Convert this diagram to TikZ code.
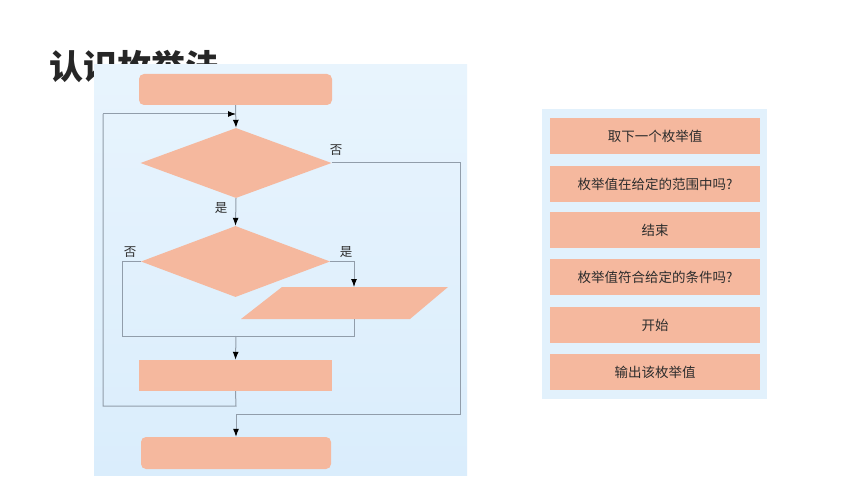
\documentclass[tikz,border=0pt]{standalone}
\usepackage{fontspec}
\setmainfont{Noto Sans CJK SC}
\newfontfamily\cjk{Noto Sans CJK SC}
\usetikzlibrary{shapes.geometric,arrows.meta,calc}
\definecolor{boxfill}{RGB}{245,184,158}
\definecolor{lineg}{RGB}{145,157,170}
\definecolor{panelA}{RGB}{232,244,253}
\definecolor{panelB}{RGB}{218,237,252}
\definecolor{panelR}{RGB}{226,241,252}
\definecolor{txt}{RGB}{45,45,45}
\tikzset{
  fbox/.style={fill=boxfill,draw=none,inner sep=0pt},
  flow/.style={draw=lineg,line width=1pt},
  arr/.style={flow,-{Latex[black,length=8pt,width=6pt]}},
  lab/.style={font=\cjk\fontsize{12.5}{12.5}\selectfont,text=txt,inner sep=0pt},
  rbox/.style={fill=boxfill,draw=none,minimum width=210pt,minimum height=36pt,inner sep=0pt,font=\cjk\fontsize{13.5}{14}\selectfont,text=txt},
}
\begin{document}
\begin{tikzpicture}[x=1pt,y=-1pt]
\useasboundingbox (0,0) rectangle (860,484);
\fill[white] (0,0) rectangle (860,484);
% title
\node[anchor=west,inner sep=0pt,font=\cjk\bfseries\fontsize{34}{34}\selectfont,text=black!85] (title) at (49,67) {认识枚举法};
% left panel
\shade[top color=panelA,bottom color=panelB] (94,65) rectangle (467,475);
% shapes
\node[fbox,rounded corners=5pt,minimum width=193pt,minimum height=31pt] (start) at (235.5,89.5) {};
\node[fbox,diamond,aspect=2.73,minimum width=191pt,minimum height=70pt] (d1) at (236,163) {};
\node[fbox,diamond,aspect=2.7,minimum width=189pt,minimum height=71pt] (d2) at (235.5,261.5) {};
\coordinate (ioc) at (344.5,303);
\fill[boxfill] (241,319) -- (282,287) -- (448,287) -- (410,319) -- cycle;
\node[inner sep=0pt,minimum width=120pt,minimum height=32pt] (io) at (ioc) {};
\node[fbox,minimum width=193pt,minimum height=31pt] (proc) at (235.5,375.5) {};
\node[fbox,rounded corners=5pt,minimum width=190pt,minimum height=32pt] (end) at (236,453) {};
% helper coordinates
\coordinate (loopin) at (236,114);
\coordinate (loopleft) at (103,114);
\coordinate (merge) at (236,336);
\coordinate (exitj) at (236,414);
\coordinate (iotop) at (354,287);
\coordinate (iobot) at (354,319);
% connectors
\draw[arr] (start.south) -- (d1.north);
\draw[arr] (d1.south) -- (d2.north);
\draw[flow] (d1.east) -- (460,163) -- (460,414) -- (exitj);
\draw[arr] (exitj) -- (end.north);
\draw[arr] (d2.east) -- (354,261.5) -- (iotop);
\draw[flow] (iobot) -- (354,336) -- (122,336) -- (122,261.5) -- (d2.west);
\draw[arr] (merge) -- (proc.north);
\draw[flow] (proc.south) -- (236,406) -- (103,406) -- (loopleft);
\draw[arr] (loopleft) -- (loopin);
% labels
\node[lab] (no1) at (336,150) {否};
\node[lab] (yes1) at (221,208) {是};
\node[lab] (no2) at (130,252) {否};
\node[lab] (yes2) at (346,252) {是};
% right panel
\fill[panelR] (542,109) rectangle (767,399);
\node[rbox] (r1) at (655,136) {取下一个枚举值};
\node[rbox] (r2) at (655,184) {枚举值在给定的范围中吗?};
\node[rbox] (r3) at (655,230) {结束};
\node[rbox] (r4) at (655,277) {枚举值符合给定的条件吗?};
\node[rbox] (r5) at (655,325) {开始};
\node[rbox] (r6) at (655,372) {输出该枚举值};
\end{tikzpicture}
\end{document}
